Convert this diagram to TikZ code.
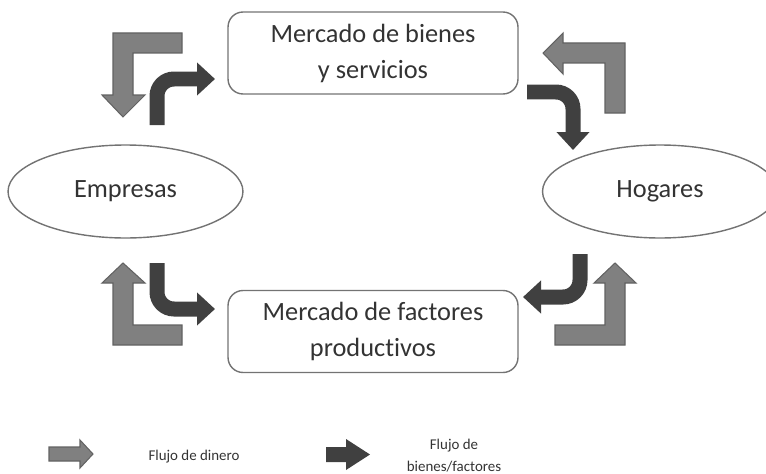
\documentclass[tikz,border=0pt]{standalone}
\usepackage{fontspec}
\setmainfont[Ligatures=NoCommon]{Carlito}
\usepackage{xcolor}
\usepackage{tikz}
\usetikzlibrary{shapes,arrows.meta}
\definecolor{moneygray}{HTML}{808080}
\definecolor{moneyedge}{HTML}{626262}
\definecolor{goodsdark}{HTML}{404040}
\definecolor{textgray}{HTML}{333333}
\tikzstyle{market} = [rectangle, draw=gray!90!black, line width=0.8pt, rounded corners=0.3cm, minimum width=5.8cm, minimum height=1.64cm, align=center, text=textgray, font=\fontsize{15}{20.5}\selectfont]
\tikzstyle{agent} = [ellipse, draw=gray!90!black, line width=0.8pt, minimum width=4.7cm, minimum height=1.86cm, inner sep=0pt, text=textgray, font=\fontsize{15}{20.5}\selectfont]
\tikzstyle{money} = [fill=moneygray, draw=moneyedge, line width=0.6pt]
\tikzstyle{goods} = [draw=goodsdark, line width=0.3cm, rounded corners=0.34cm, -{Triangle[width=0.64cm,length=0.36cm]}]
\tikzstyle{legend} = [align=center, text=textgray, font=\fontsize{8.5}{12.5}\selectfont]

\begin{document}
\begin{tikzpicture}[x=0.02cm, y=-0.02cm]
\useasboundingbox (0,0) rectangle (766,473);
\node [market] (bienes) at (373,53) {Mercado de bienes\\y servicios};
\node [market] (factores) at (373,331.5) {Mercado de factores\\productivos};
\node [agent] (empresas) at (125.5,191.5) {Empresas};
\node [agent] (hogares) at (660,191.5) {Hogares};
% flujo de dinero
\path [money] (182,33) -- (113,33) -- (113,95) -- (102,95) -- (123,117) -- (145,95) -- (133,95) -- (133,53) -- (182,53) -- cycle;
\path [money] (625,113) -- (625,43) -- (563,43) -- (563,33) -- (543,53) -- (563,74) -- (563,63) -- (605,63) -- (605,113) -- cycle;
\path [money] (182,345) -- (113,345) -- (113,283) -- (102,283) -- (123,263) -- (145,283) -- (133,283) -- (133,325) -- (182,325) -- cycle;
\path [money] (555,345) -- (625,345) -- (625,283) -- (636,283) -- (615,263) -- (594,283) -- (605,283) -- (605,325) -- (555,325) -- cycle;
% flujo de bienes/factores
\draw [goods] (157,125) -- (157,79) -- (215,79);
\draw [goods] (527,92) -- (573,92) -- (573,150);
\draw [goods] (157,263) -- (157,309) -- (215,309);
\draw [goods] (580,254) -- (580,297) -- (523,297);
% leyenda
\path [money] (49,447) -- (80,447) -- (80,440) -- (93,454) -- (80,468) -- (80,461) -- (49,461) -- cycle;
\node [legend] (dinero) at (194,457) {Flujo de dinero};
\path [fill=goodsdark] (326,447) -- (346,447) -- (346,439) -- (370,454.5) -- (346,470) -- (346,462) -- (326,462) -- cycle;
\node [legend] (bienesfactores) at (454,456) {Flujo de\\bienes/factores};
\end{tikzpicture}
\end{document}
